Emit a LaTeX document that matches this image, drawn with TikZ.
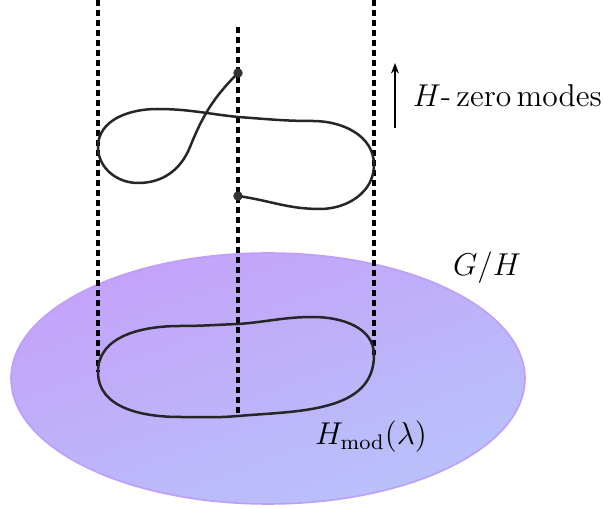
\documentclass[tikz,border=0pt]{standalone}
\usepackage{amsmath}
\usetikzlibrary{arrows.meta}

\definecolor{lilac}{RGB}{196,162,249}
\definecolor{paleblue}{RGB}{184,194,250}
\definecolor{rim}{RGB}{190,158,250}

\begin{document}
\begin{tikzpicture}[x=0.38pt, y=-0.38pt, thick, font=\large]
  \useasboundingbox (0,0) rectangle (603,508);
  % 底面 G/H：椭圆，紫到浅蓝渐变
  \coordinate (O) at (268,378.5);
  \shade[top color=lilac, bottom color=paleblue, shading angle=20,
         draw=rim, line width=0.6pt]
    (O) ellipse [x radius=257, y radius=125.5];

  % 三条竖直虚线
  \coordinate (L0) at (98,0);
  \coordinate (M0) at (238,27);
  \coordinate (R0) at (374,0);
  \coordinate (L1) at (98,372);   % 下方闭曲线最左点
  \coordinate (M1) at (238,416);  % 下方闭曲线最低处
  \coordinate (R1) at (374,355);  % 下方闭曲线最右点
  \draw[line width=1.3pt, dash pattern=on 2.3pt off 1.5pt] (L0) -- (L1);
  \draw[line width=1.3pt, dash pattern=on 2.3pt off 1.5pt] (M0) -- (M1);
  \draw[line width=1.3pt, dash pattern=on 2.3pt off 1.5pt] (R0) -- (R1);

  % 上方开曲线：两端点在中间虚线上
  \coordinate (P) at (238,73);
  \coordinate (Q) at (238,196);
  \draw[line width=0.95pt, black!85]
    (P) to[out=225, in=68] (190,147)
        to[out=248, in=0] (138,183)
        to[out=180, in=270] (98,147)
        to[out=90, in=180] (157,109)
        to[out=0, in=174] (238,117)
        to[out=-4, in=180] (313,121)
        to[out=0, in=90] (374,165)
        to[out=270, in=0] (320,209)
        to[out=180, in=-8] (Q);
  \fill[black!80] (P) circle (1.8pt);
  \fill[black!80] (Q) circle (1.8pt);

  % 下方闭曲线 H_mod(lambda)
  \draw[line width=0.95pt, black!85]
    (L1) to[out=90, in=180] (180,326)
         to[out=0, in=182] (238,324)
         to[out=4, in=180] (313,317)
         to[out=0, in=90] (R1)
         to[out=270, in=5] (M1)
         to[out=185, in=0] (180,417)
         to[out=180, in=270] (L1);

  % 箭头与标注
  \coordinate (A0) at (395,128);
  \coordinate (A1) at (395,63);
  \draw[line width=0.6pt, -{Stealth[length=4pt, width=3pt]}] (A0) -- (A1);

  \node[right] at (403,96) {$H\text{-}\,\mathrm{zero\,modes}$};
  \node at (487,268) {$G/H$};
  \node at (371,437) {$H_{\mathrm{mod}}(\lambda)$};
\end{tikzpicture}
\end{document}
